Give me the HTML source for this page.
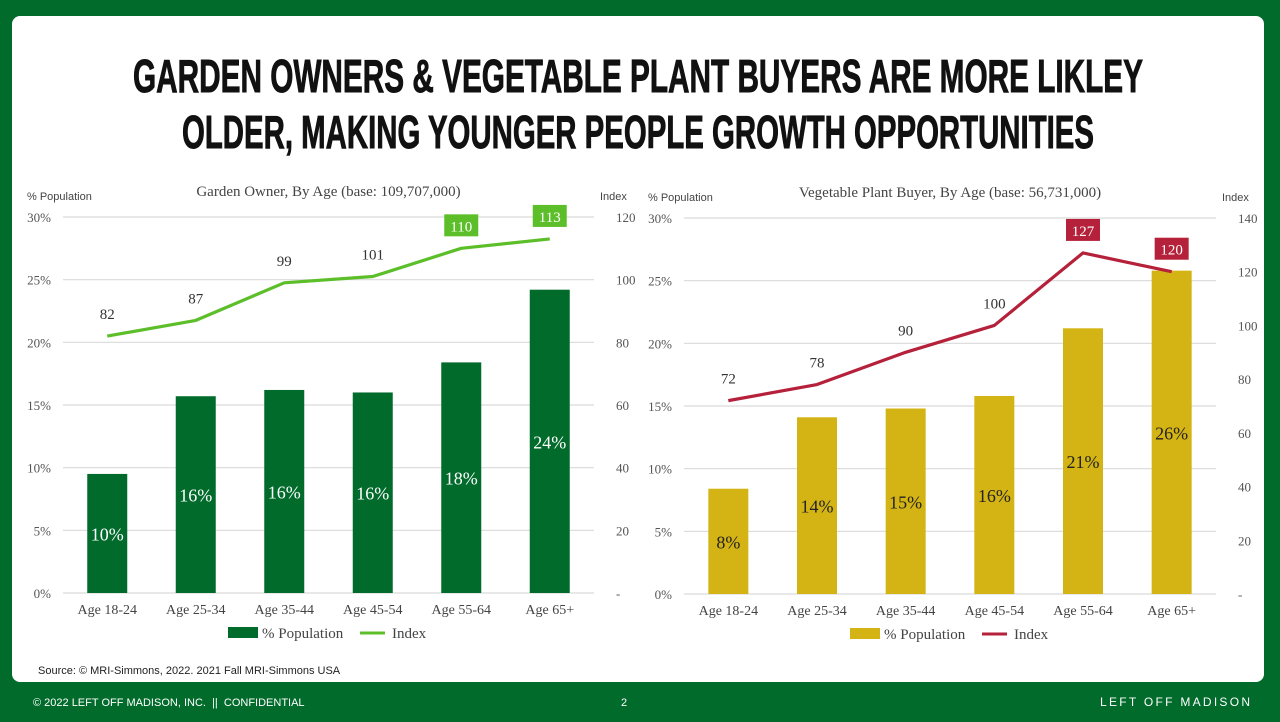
<!DOCTYPE html>
<html><head><meta charset="utf-8"><style>
html,body{margin:0;padding:0;background:#006b2b;}
svg{display:block}
</style></head><body>
<svg id="s" width="1280" height="722" xmlns="http://www.w3.org/2000/svg">
<rect x="0" y="0" width="1280" height="722" fill="#006b2b"/>
<rect x="12" y="16" width="1252" height="666" rx="8" fill="#ffffff"/>
<text x="638" y="92" text-anchor="middle" font-family="'Liberation Sans Narrow','Liberation Sans',sans-serif" font-weight="bold" font-size="46" textLength="1010" lengthAdjust="spacingAndGlyphs" fill="#111" stroke="#111" stroke-width="0.9">GARDEN OWNERS &amp; VEGETABLE PLANT BUYERS ARE MORE LIKLEY</text>
<text x="638" y="148" text-anchor="middle" font-family="'Liberation Sans Narrow','Liberation Sans',sans-serif" font-weight="bold" font-size="46" textLength="912" lengthAdjust="spacingAndGlyphs" fill="#111" stroke="#111" stroke-width="0.9">OLDER, MAKING YOUNGER PEOPLE GROWTH OPPORTUNITIES</text>
<g id="c1"></g>
<g id="c2"></g>
<text x="38" y="674" font-family="'Liberation Sans',sans-serif" font-size="11" fill="#222">Source: © MRI-Simmons, 2022. 2021 Fall MRI-Simmons USA</text>
<text x="33" y="706" font-family="'Liberation Sans',sans-serif" font-size="11" fill="#fff" xml:space="preserve">© 2022 LEFT OFF MADISON, INC.  ||  CONFIDENTIAL</text>
<text x="621" y="706" font-family="'Liberation Sans',sans-serif" font-size="11" fill="#fff">2</text>
<text x="1100" y="706" font-family="'Liberation Sans',sans-serif" font-size="12" textLength="150" lengthAdjust="spacing" fill="#fff">LEFT OFF MADISON</text>
</svg>
<script>
const categories = ["Age 18-24","Age 25-34","Age 35-44","Age 45-54","Age 55-64","Age 65+"];
const gardenPct = [9.5,15.7,16.2,16.0,18.4,24.2];
const gardenPctLabels = ["10%","16%","16%","16%","18%","24%"];
const gardenIndex = [82,87,99,101,110,113];
const vegPct = [8.4,14.1,14.8,15.8,21.2,25.8];
const vegPctLabels = ["8%","14%","15%","16%","21%","26%"];
const vegIndex = [72,78,90,100,127,120];
const pctTicks = [0,5,10,15,20,25,30];
const gardenIdxTicks = [0,20,40,60,80,100,120];
const vegIdxTicks = [0,20,40,60,80,100,120,140];

const NS="http://www.w3.org/2000/svg";
function mk(parent,tag,attrs,text){const e=document.createElementNS(NS,tag);for(const k in attrs)e.setAttribute(k,attrs[k]);if(text!==undefined)e.textContent=text;parent.appendChild(e);return e;}

function drawChart(g,cfg){
  const {x0,x1,yTop,yBot,pct,pctLabels,idx,idxTicks,idxMax,barColor,lineColor,pctLabelColor,title,boxed}=cfg;
  const ys=v=>yBot-(v/30)*(yBot-yTop);
  const yi=v=>yBot-(v/idxMax)*(yBot-yTop);
  const band=(x1-x0)/categories.length;
  const xc=i=>x0+band*(i+0.5);
  const serif="'Liberation Serif',serif", sans="'Liberation Sans',sans-serif";
  let t=mk(g,'text',{x:(x0+x1)/2,y:yTop-21,'text-anchor':'middle','font-family':serif,'font-size':15,fill:'#444'},title);
  
  
  t=mk(g,'text',{x:x0-36,y:yTop-17,'font-family':sans,'font-size':11,fill:'#444'},'% Population');
  
  
  t=mk(g,'text',{x:x1+6,y:yTop-17,'font-family':sans,'font-size':11,fill:'#444'},'Index');
  
  
  pctTicks.forEach(v=>{
    const l=mk(g,'line',{x1:x0,x2:x1,y1:ys(v),y2:ys(v),stroke:'#d9d9d9','stroke-width':1.2});
    
    
    const tt=mk(g,'text',{x:x0-12,y:ys(v)+5,'text-anchor':'end','font-family':serif,'font-size':13,fill:'#555'},v+'%');
    
    
  });
  idxTicks.forEach(v=>{
    const tt=mk(g,'text',{x:x1+22,y:yi(v)+5,'text-anchor':'start','font-family':serif,'font-size':13,fill:'#555'},v===0?'-':String(v));
    
    
  });
  categories.forEach((c,i)=>{
    const b=mk(g,'rect',{x:xc(i)-20,y:ys(pct[i]),width:40,height:yBot-ys(pct[i]),fill:barColor});
    
    
    const bl=mk(g,'text',{x:xc(i),y:(ys(pct[i])+yBot)/2+7,'text-anchor':'middle','font-family':serif,'font-size':18,fill:pctLabelColor},pctLabels[i]);
    
    
    const cl=mk(g,'text',{x:xc(i),y:yBot+21,'text-anchor':'middle','font-family':serif,'font-size':14,fill:'#444'},c);
    
    
  });
  const pts=idx.map((v,i)=>xc(i)+','+yi(v)).join(' ');
  const pl=mk(g,'polyline',{points:pts,fill:'none',stroke:lineColor,'stroke-width':3.2,'stroke-linejoin':'round'});
  
  
  idx.forEach((v,i)=>{
    const y=yi(v)-17;
    if(i>=idx.length-2){
      const r=mk(g,'rect',{x:xc(i)-17,y:y-17,width:34,height:22,fill:lineColor});
      
      
    }
    const lt=mk(g,'text',{x:xc(i),y:y,'text-anchor':'middle','font-family':serif,'font-size':15,fill:i>=idx.length-2?'#fff':'#333'},String(v));
    
    
  });
  const ly=yBot+45, lx=cfg.legendX;
  let r=mk(g,'rect',{x:lx,y:ly-11,width:30,height:11,fill:barColor});
  
  
  t=mk(g,'text',{x:lx+34,y:ly,'font-family':serif,'font-size':15,fill:'#444'},'% Population');
  
  
  const ll=mk(g,'line',{x1:lx+132,x2:lx+157,y1:ly-5,y2:ly-5,stroke:lineColor,'stroke-width':3});
  
  
  t=mk(g,'text',{x:lx+164,y:ly,'font-family':serif,'font-size':15,fill:'#444'},'Index');
  
  
}
drawChart(document.getElementById('c1'),{x0:63,x1:594,yTop:217,yBot:593,pct:gardenPct,pctLabels:gardenPctLabels,idx:gardenIndex,idxTicks:gardenIdxTicks,idxMax:120,barColor:'#006b2b',lineColor:'#5cbf2a',pctLabelColor:'#fff',title:'Garden Owner, By Age (base: 109,707,000)',legendX:228});
drawChart(document.getElementById('c2'),{x0:684,x1:1216,yTop:218,yBot:594,pct:vegPct,pctLabels:vegPctLabels,idx:vegIndex,idxTicks:vegIdxTicks,idxMax:140,barColor:'#d4b414',lineColor:'#b5213a',pctLabelColor:'#222',title:'Vegetable Plant Buyer, By Age (base: 56,731,000)',legendX:850});
</script>
</body></html>
